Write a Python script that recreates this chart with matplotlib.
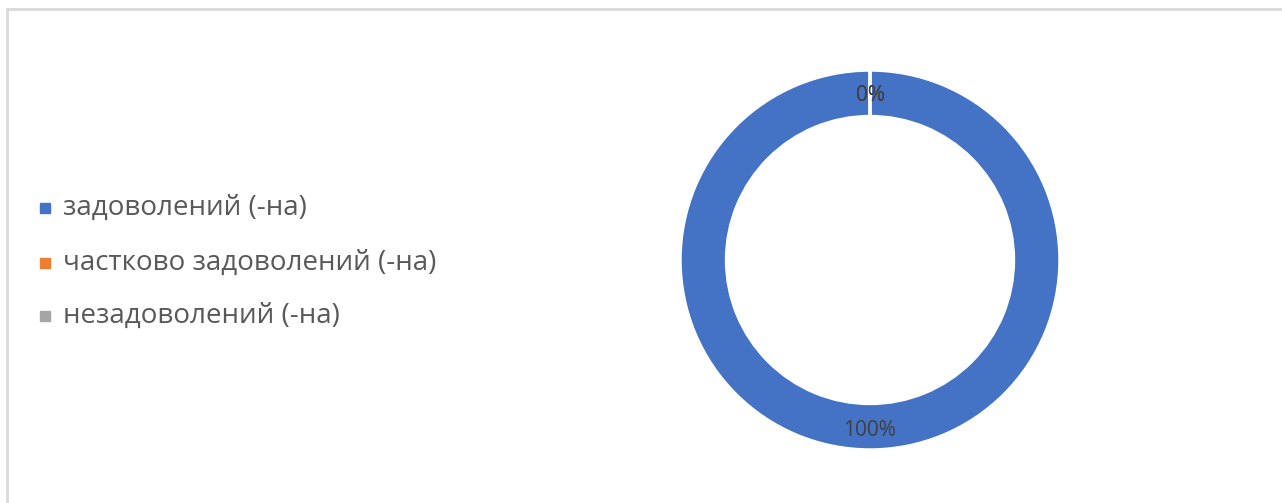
import matplotlib.pyplot as plt
from matplotlib.patches import Rectangle
from matplotlib.transforms import offset_copy

categories = ["задоволений (-на)", "частково задоволений (-на)", "незадоволений (-на)"]
values = [100, 0, 0]
colors = ["#4472c4", "#ed7d31", "#a5a5a5"]

plt.rcParams['font.family'] = ['Open Sans', 'DejaVu Sans']

fig = plt.figure(figsize=(12.82, 5.03), dpi=100)

# chart frame (cut off on right and bottom like the screenshot)
fig.patches.append(Rectangle((7 / 1282, -0.1), 1.2, 1 - 9 / 503 + 0.1,
                             transform=fig.transFigure, fill=False,
                             edgecolor="#d9d9d9", linewidth=2))

# donut: centre (870, 260), outer radius ~189 px
r = 190
ax = fig.add_axes([(870 - r) / 1282, 1 - (260 + r) / 503, 2 * r / 1282, 2 * r / 503])
wedges, texts, autotexts = ax.pie(
    values, colors=colors, startangle=90, counterclock=False,
    autopct=lambda p: f"{p:.0f}%", pctdistance=0.88,
    wedgeprops=dict(width=0.245, edgecolor="white", linewidth=2.5),
    textprops=dict(color="#404040", fontsize=15))
ax.set_xlim(-1, 1)
ax.set_ylim(-1, 1)
ax.set_aspect("equal")
# nudge the percentage labels down a little
for t in autotexts:
    t.set_transform(offset_copy(ax.transData, fig=fig, y=-3, units="dots"))

# legend
legend_y = [208, 263, 316]
for name, col, y in zip(categories, colors, legend_y):
    fig.patches.append(Rectangle((40 / 1282, 1 - (y + 5) / 503), 10 / 1282, 10 / 503,
                                 transform=fig.transFigure, color=col))
    fig.text(63 / 1282, 1 - y / 503, name, fontsize=20, color="#595959",
             va="center", ha="left")

fig.savefig("out.png", dpi=100)
